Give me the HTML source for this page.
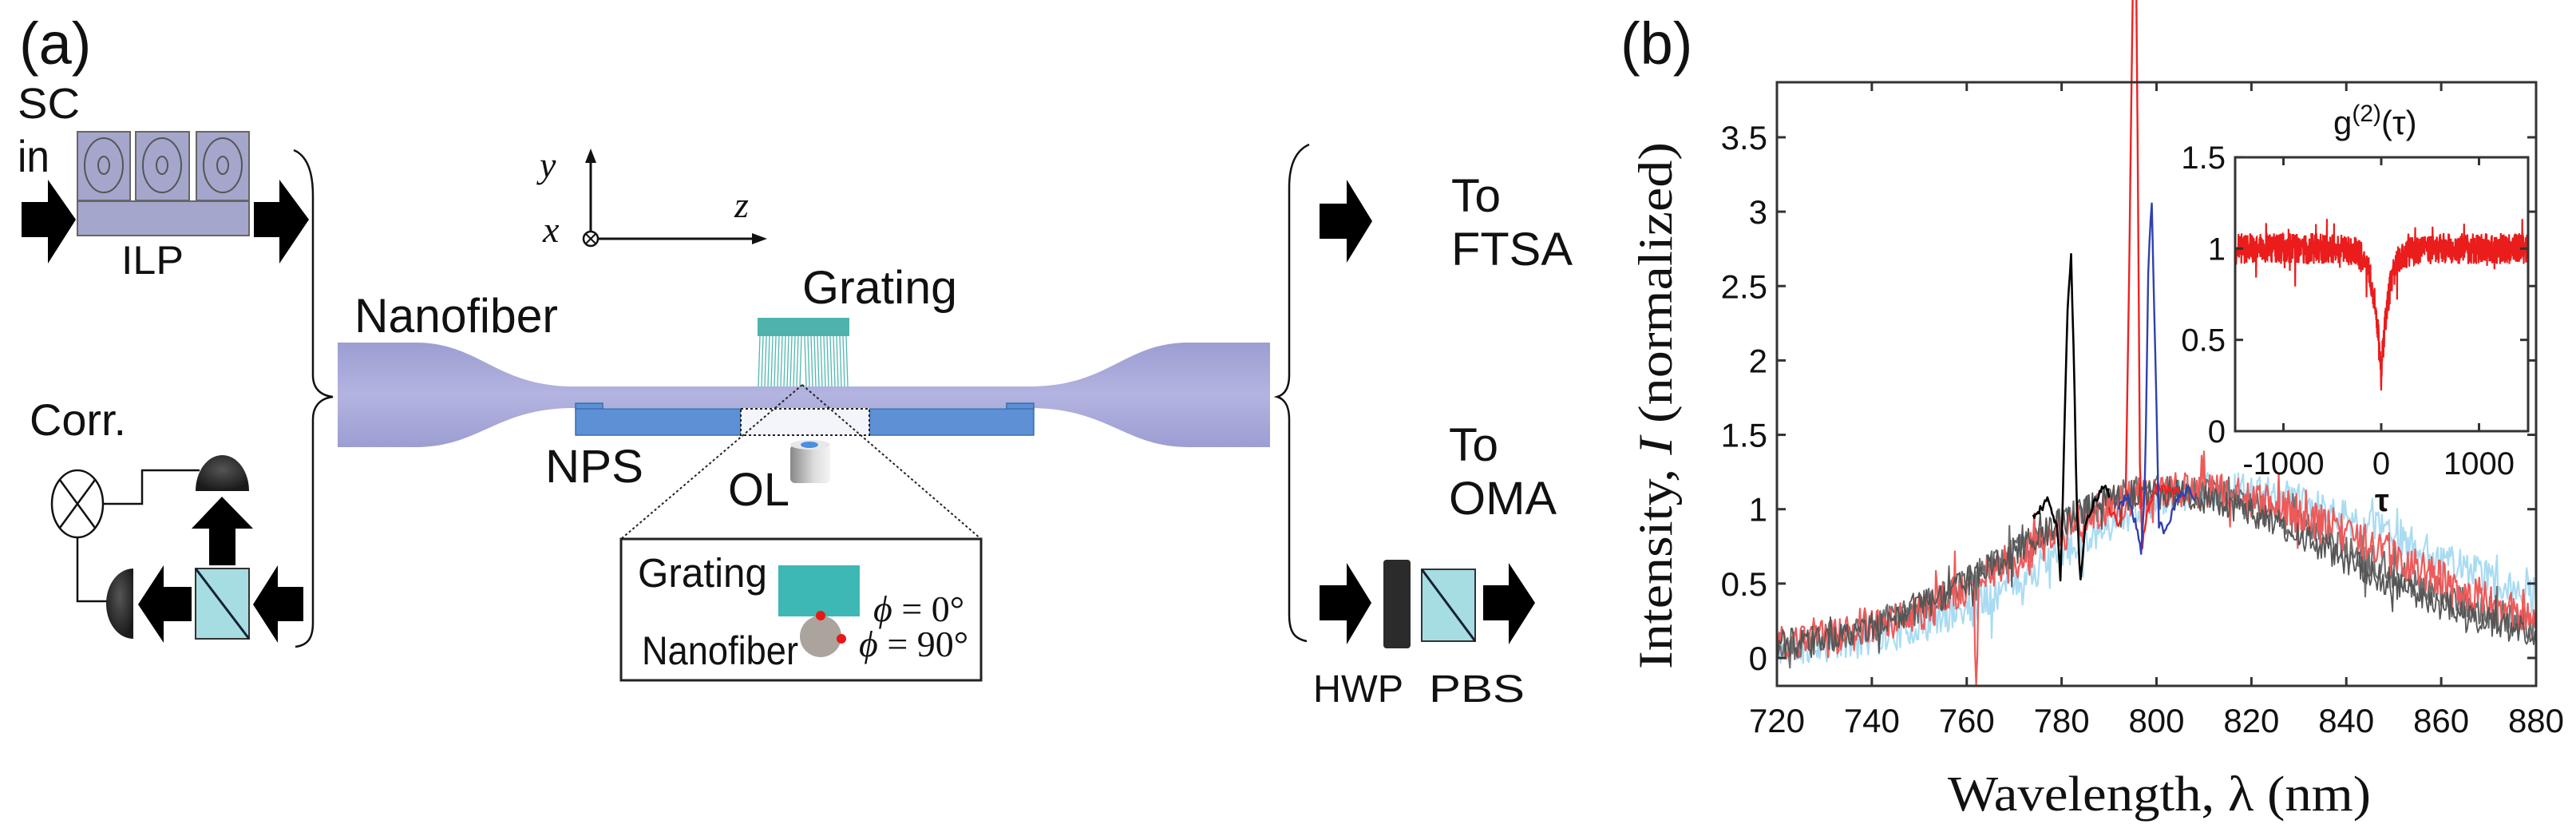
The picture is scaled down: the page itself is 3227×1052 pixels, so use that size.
<!DOCTYPE html>
<html><head><meta charset="utf-8"><style>
html,body{margin:0;padding:0;background:#fff;}
svg{display:block;}
text{font-family:"Liberation Sans",sans-serif;fill:#111;}
.serif{font-family:"Liberation Serif",serif;}
</style></head><body>
<svg id="s" width="3227" height="1052" viewBox="0 0 3227 1052" xmlns="http://www.w3.org/2000/svg">
<defs>
<linearGradient id="fib" x1="0" y1="0" x2="0" y2="1">
<stop offset="0" stop-color="#9c9dd2"/><stop offset="0.5" stop-color="#b3b4e0"/><stop offset="1" stop-color="#9c9dd2"/></linearGradient>
<linearGradient id="cyl" x1="0" y1="0" x2="1" y2="0">
<stop offset="0" stop-color="#888"/><stop offset="0.6" stop-color="#ddd"/><stop offset="1" stop-color="#f4f4f4"/></linearGradient>
<radialGradient id="dome" cx="0.5" cy="0.4" r="0.6"><stop offset="0" stop-color="#555"/><stop offset="1" stop-color="#1a1a1a"/></radialGradient>
</defs>

<text x="24" y="80" font-size="74">(a)</text>
<text x="22" y="148" font-size="54" textLength="78" lengthAdjust="spacingAndGlyphs">SC</text>
<text x="22" y="215" font-size="56" textLength="40" lengthAdjust="spacingAndGlyphs">in</text>

<g stroke="#666" stroke-width="2" fill="#a4a6cc">
<rect x="97" y="165" width="66" height="86"/>
<rect x="170" y="165" width="67" height="86"/>
<rect x="246" y="165" width="66" height="86"/>
<rect x="97" y="252" width="215" height="43"/>
</g>
<g fill="none" stroke="#555" stroke-width="2">
<ellipse cx="130" cy="207" rx="24" ry="34"/><ellipse cx="130" cy="207" rx="7" ry="11"/>
<ellipse cx="203" cy="207" rx="24" ry="34"/><ellipse cx="203" cy="207" rx="7" ry="11"/>
<ellipse cx="279" cy="207" rx="24" ry="34"/><ellipse cx="279" cy="207" rx="7" ry="11"/>
</g>
<polygon points="27,253 60,253 60,225 95,275 60,330 60,297 27,297" fill="#000"/>
<polygon points="318,253 350,253 350,225 387,275 350,330 350,297 318,297" fill="#000"/>
<text x="152" y="343" font-size="50" textLength="78" lengthAdjust="spacingAndGlyphs">ILP</text>

<path d="M368,188 C385,195 392,215 392,245 L392,470 C392,485 400,495 417,497 C400,499 392,510 392,525 L392,780 C392,800 385,808 370,810" fill="none" stroke="#111" stroke-width="2.5"/>

<text x="37" y="545" font-size="56" textLength="121" lengthAdjust="spacingAndGlyphs">Corr.</text>
<ellipse cx="97" cy="631" rx="32" ry="42" fill="#fff" stroke="#111" stroke-width="2.5"/>
<line x1="75" y1="601" x2="119" y2="661" stroke="#111" stroke-width="2.5"/>
<line x1="119" y1="601" x2="75" y2="661" stroke="#111" stroke-width="2.5"/>
<polyline points="129,631 178,631 178,589 250,589" fill="none" stroke="#111" stroke-width="2.5"/>
<polyline points="97,673 97,753 142,753" fill="none" stroke="#111" stroke-width="2.5"/>
<path d="M245,615 A33.5,45 0 0 1 312,615 Z" fill="url(#dome)"/>
<polygon points="262,708 262,662 240,662 278,622 317,662 295,662 295,708" fill="#000"/>
<rect x="245" y="712" width="67" height="88" fill="#a6dde2" stroke="#333" stroke-width="2"/>
<line x1="245" y1="712" x2="312" y2="800" stroke="#123" stroke-width="3"/>
<path d="M167,712 A34,44 0 0 0 167,800 Z" fill="url(#dome)"/>
<polygon points="240,735 205,735 205,708 173,757 205,805 205,778 240,778" fill="#000"/>
<polygon points="380,735 348,735 348,708 317,757 348,805 348,778 380,778" fill="#000"/>

<line x1="740" y1="299" x2="740" y2="200" stroke="#111" stroke-width="3"/>
<polygon points="733,204 740,186 747,204" fill="#111"/>
<line x1="740" y1="299" x2="946" y2="299" stroke="#111" stroke-width="3"/>
<polygon points="942,292 961,299 942,306" fill="#111"/>
<circle cx="740" cy="299" r="9" fill="#fff" stroke="#111" stroke-width="2.5"/>
<line x1="734" y1="293" x2="746" y2="305" stroke="#111" stroke-width="2"/>
<line x1="746" y1="293" x2="734" y2="305" stroke="#111" stroke-width="2"/>
<text class="serif" x="676" y="222" font-size="46" font-style="italic">y</text>
<text class="serif" x="920" y="272" font-size="46" font-style="italic">z</text>
<text class="serif" x="680" y="303" font-size="46" font-style="italic">x</text>

<text x="444" y="416" font-size="60" textLength="255" lengthAdjust="spacingAndGlyphs">Nanofiber</text>
<path d="M423,429 L520,429 C600,429 620,482 714,484 L1295,484 C1390,482 1410,429 1489,429 L1591,429 L1591,560 L1489,560 C1410,560 1390,513 1295,511 L714,511 C620,513 600,560 520,560 L423,560 Z" fill="url(#fib)"/>

<text x="1005" y="380" font-size="58" textLength="194" lengthAdjust="spacingAndGlyphs">Grating</text>
<g id="glines" stroke="#4fb8b2" stroke-width="1.3"></g>
<rect x="949" y="398" width="115" height="23" fill="#4fb2ac"/>

<rect x="721" y="505" width="34" height="8" fill="#5d90d5" stroke="#3a6db0" stroke-width="1.5"/>
<rect x="1261" y="505" width="34" height="8" fill="#5d90d5" stroke="#3a6db0" stroke-width="1.5"/>
<rect x="721" y="512" width="207" height="33" fill="#5d90d5" stroke="#3a6db0" stroke-width="1.5"/>
<rect x="1089" y="512" width="206" height="33" fill="#5d90d5" stroke="#3a6db0" stroke-width="1.5"/>
<rect x="928" y="512" width="161" height="33" fill="#f4f4fb" stroke="#222" stroke-width="2" stroke-dasharray="3,3"/>
<text x="683" y="604" font-size="58" textLength="123" lengthAdjust="spacingAndGlyphs">NPS</text>

<rect x="990" y="557" width="50" height="48" rx="6" fill="url(#cyl)"/>
<ellipse cx="1015" cy="557" rx="25" ry="6" fill="#e8e8e8"/>
<ellipse cx="1014" cy="557" rx="11" ry="4" fill="#4a8fe0"/>
<text x="912" y="633" font-size="58" textLength="77" lengthAdjust="spacingAndGlyphs">OL</text>

<line x1="1005" y1="482" x2="778" y2="675" stroke="#222" stroke-width="2" stroke-dasharray="3,3"/>
<line x1="1005" y1="482" x2="1229" y2="675" stroke="#222" stroke-width="2" stroke-dasharray="3,3"/>
<rect x="778" y="675" width="451" height="177" fill="#fff" stroke="#222" stroke-width="3"/>
<text x="799" y="735" font-size="51" textLength="162" lengthAdjust="spacingAndGlyphs">Grating</text>
<rect x="975" y="708" width="102" height="64" fill="#3db8b5"/>
<circle cx="1028" cy="797" r="26" fill="#aaa49d"/>
<circle cx="1028" cy="771" r="6" fill="#e81818"/>
<circle cx="1054" cy="800" r="6" fill="#e81818"/>
<text x="804" y="832" font-size="50" textLength="196" lengthAdjust="spacingAndGlyphs">Nanofiber</text>
<text class="serif" x="1094" y="778" font-size="46"><tspan font-style="italic">ϕ</tspan> = 0°</text>
<text class="serif" x="1076" y="822" font-size="46"><tspan font-style="italic">ϕ</tspan> = 90°</text>

<path d="M1640,181 C1624,188 1615,205 1615,235 L1615,470 C1615,485 1610,494 1600,497 C1610,500 1615,510 1615,525 L1615,770 C1615,792 1622,800 1637,803" fill="none" stroke="#111" stroke-width="2.5"/>
<polygon points="1653,255 1687,255 1687,225 1719,277 1687,329 1687,299 1653,299" fill="#000"/>
<text x="1818" y="265" font-size="58" textLength="62" lengthAdjust="spacingAndGlyphs">To</text>
<text x="1818" y="332" font-size="58" textLength="152" lengthAdjust="spacingAndGlyphs">FTSA</text>
<text x="1815" y="577" font-size="58" textLength="62" lengthAdjust="spacingAndGlyphs">To</text>
<text x="1815" y="644" font-size="58" textLength="135" lengthAdjust="spacingAndGlyphs">OMA</text>
<polygon points="1653,733 1687,733 1687,705 1718,755 1687,807 1687,777 1653,777" fill="#000"/>
<rect x="1733" y="701" width="34" height="111" rx="4" fill="#2b2b2b"/>
<rect x="1781" y="713" width="67" height="90" fill="#a6dde2" stroke="#333" stroke-width="2"/>
<line x1="1781" y1="713" x2="1848" y2="803" stroke="#123" stroke-width="3"/>
<polygon points="1858,733 1890,733 1890,705 1923,755 1890,807 1890,777 1858,777" fill="#000"/>
<text x="1645" y="879" font-size="48" textLength="113" lengthAdjust="spacingAndGlyphs">HWP</text>
<text x="1790" y="879" font-size="48" textLength="120" lengthAdjust="spacingAndGlyphs">PBS</text>

<text x="2030" y="80" font-size="74">(b)</text>
<g id="plot"></g>
<rect x="2226" y="103" width="951" height="756" fill="none" stroke="#333" stroke-width="3"/>
<g id="ticks" stroke="#333" stroke-width="3"></g>
<g id="labels" font-size="42" fill="#222"></g>
<text class="serif" transform="translate(2094,508) rotate(-90)" text-anchor="middle" font-size="60" textLength="660" lengthAdjust="spacingAndGlyphs">Intensity, <tspan font-style="italic">I</tspan> (normalized)</text>
<text class="serif" x="2705" y="1015" text-anchor="middle" font-size="62" textLength="530" lengthAdjust="spacingAndGlyphs">Wavelength, λ (nm)</text>

<rect x="2800" y="197" width="367" height="343" fill="#fff" stroke="#333" stroke-width="3"/>
<g id="inset"></g>
<text x="2923" y="168" font-size="42">g<tspan font-size="30" dy="-16">(2)</tspan><tspan dy="16">(τ)</tspan></text>
<text x="2975" y="640" font-size="40" font-weight="bold">τ</text>
</svg>
<script>
(function(){
var NS="http://www.w3.org/2000/svg";
function el(p,n,a){var e=document.createElementNS(NS,n);for(var k in a)e.setAttribute(k,a[k]);p.appendChild(e);return e;}
function rng(seed){return function(){seed|=0;seed=seed+0x6D2B79F5|0;var t=Math.imul(seed^seed>>>15,1|seed);t=t+Math.imul(t^t>>>7,61|t)^t;return((t^t>>>14)>>>0)/4294967296;};}
var g=document.getElementById('glines');
for(var x=952;x<=1062;x+=4){el(g,'line',{x1:x,y1:421,x2:x+(x<1005?-2:2),y2:484});}
var X=function(w){return 2226+(w-720)*951/160;};
var Y=function(v){return 824-v*186.3;};
var P=document.getElementById('plot');
function base(w,c,sl,sr,a){var sg=w<c?sl:sr;return 0.05+a*Math.exp(-(w-c)*(w-c)/(2*sg*sg));}
function interp(pts,w){for(var i=0;i<pts.length-1;i++){if(w>=pts[i][0]&&w<=pts[i+1][0]){var t=(w-pts[i][0])/(pts[i+1][0]-pts[i][0]);return pts[i][1]+t*(pts[i+1][1]-pts[i][1]);}}return null;}
function curve(col,c,sl,sr,a,amp,seed,over,w0,w1,sw){
  var r=rng(seed),d='';w0=w0||720;w1=w1||880;
  for(var w=w0;w<=w1+1e-6;w+=0.25){
    var v=base(w,c,sl,sr,a)+(r()-0.5)*2*amp+(r()<0.06?(r()-0.5)*amp*3:0);
    if(over){var o=interp(over,w);if(o!==null)v=o+(r()-0.5)*0.06;}
    var y=Math.min(Y(v),859);
    d+=(d?'L':'M')+X(w).toFixed(1)+','+y.toFixed(1);
  }
  el(P,'path',{d:d,fill:'none',stroke:col,'stroke-width':sw||2.2,'stroke-linejoin':'round'});
}
curve('#a9dcf2',812,32,46,1.08,0.12,11);
curve('#6f6f6f',802,32,40,1.08,0.11,22,null,720,880);
curve('#ee5a5a',806,33,42,1.08,0.13,33,[[760,0.5],[761.5,0.5],[762,-0.4],[762.5,0.5],[764,0.5]]);
curve('#555',800,31,38,1.06,0.1,44,null,720,880,1.8);
curve('#000',800,31,38,1.06,0.05,55,[[774,0.95],[777,1.05],[779,0.9],[779.8,0.5],[780.5,1.4],[781.2,2.3],[782,2.7],[782.6,2.0],[783.2,1.0],[784,0.5],[785,0.9],[787,1.05],[789,1.15],[790,1.1]],774,790,2.6);
curve('#ee2222',805,33,42,1.08,0.06,66,[[790,1.0],[792,0.9],[793.5,1.1],[794.2,2.5],[795,4.5],[795.8,4.5],[796.5,1.3],[797,0.75],[798,1.0],[800,1.15],[806,1.1]],790,806,2.4);
curve('#3040b0',805,33,42,1.08,0.06,77,[[792,1.0],[794,1.1],[796,0.85],[796.8,0.7],[797.6,1.2],[798.3,2.7],[799,3.05],[799.8,2.0],[800.5,0.9],[802,0.85],[804,1.05],[807,1.15],[808,1.05]],792,808,2.4);
var T=document.getElementById('ticks'),L=document.getElementById('labels');
for(var w=720;w<=880;w+=20){var xx=X(w);el(T,'line',{x1:xx,y1:859,x2:xx,y2:848});el(T,'line',{x1:xx,y1:103,x2:xx,y2:114});
 var t=el(L,'text',{x:xx,y:917,'text-anchor':'middle'});t.textContent=w;}
var yl=['0','0.5','1','1.5','2','2.5','3','3.5'];
for(var i=0;i<8;i++){var yy=Y(i*0.5);el(T,'line',{x1:2226,y1:yy,x2:2237,y2:yy});el(T,'line',{x1:3177,y1:yy,x2:3166,y2:yy});
 var t2=el(L,'text',{x:2214,y:yy+15,'text-anchor':'end'});t2.textContent=yl[i];}
var I=document.getElementById('inset');
var XI=function(t){return 2983+t*0.1225;},YI=function(v){return 540-v*228.7;};
var r=rng(99),d='';
for(var t=-1490;t<=1490;t+=2.5){var v=1-0.72*Math.exp(-Math.abs(t)/75)+(r()-0.5)*0.17+(r()<0.04?(r()-0.5)*0.3:0);
 d+=(d?'L':'M')+XI(t).toFixed(1)+','+YI(v).toFixed(1);}
el(I,'path',{d:d,fill:'none',stroke:'#ea1c1c','stroke-width':2.2});
el(I,'rect',{x:2800,y:197,width:367,height:343,fill:'none',stroke:'#333','stroke-width':3});
[-1000,0,1000].forEach(function(t){var xx=XI(t);el(I,'line',{x1:xx,y1:540,x2:xx,y2:530,stroke:'#333','stroke-width':3});el(I,'line',{x1:xx,y1:197,x2:xx,y2:207,stroke:'#333','stroke-width':3});
 var tx=el(I,'text',{x:xx,y:594,'text-anchor':'middle','font-size':40});tx.textContent=t;});
[['0',0],['0.5',0.5],['1',1],['1.5',1.5]].forEach(function(a){var yy=YI(a[1]);el(I,'line',{x1:2800,y1:yy,x2:2810,y2:yy,stroke:'#333','stroke-width':3});el(I,'line',{x1:3167,y1:yy,x2:3157,y2:yy,stroke:'#333','stroke-width':3});
 var tx=el(I,'text',{x:2788,y:yy+14,'text-anchor':'end','font-size':40});tx.textContent=a[0];});
})();
</script>
</body></html>
